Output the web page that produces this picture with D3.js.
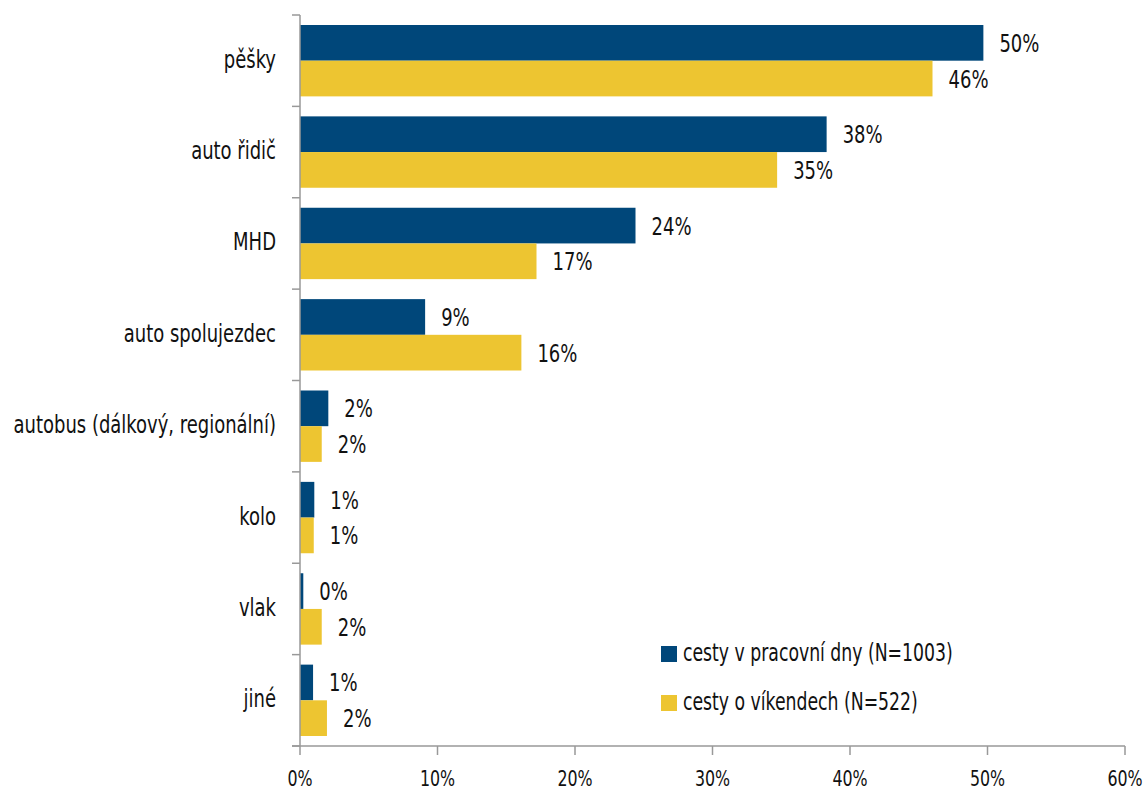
<!DOCTYPE html>
<html><head><meta charset="utf-8">
<script src="https://cdn.jsdelivr.net/npm/d3@7"></script>
<style>
body{margin:0;background:#fff;}
text{font-family:"DejaVu Sans Condensed","DejaVu Sans",sans-serif;fill:#111;}
</style></head>
<body><svg id="c" width="1147" height="792"></svg>
<script>
const categories=["pěšky","auto řidič","MHD","auto spolujezdec","autobus (dálkový, regionální)","kolo","vlak","jiné"];
const weekday=[49.7,38.3,24.4,9.1,2.06,1.04,0.24,0.95];
const weekend=[46.0,34.7,17.2,16.1,1.58,1.0,1.58,1.96];
const weekdayLabels=["50%","38%","24%","9%","2%","1%","0%","1%"];
const weekendLabels=["46%","35%","17%","16%","2%","1%","2%","2%"];
const seriesNames=["cesty v pracovní dny (N=1003)","cesty o víkendech (N=522)"];
const colors=["#00477A","#EDC531"];
const xTicks=[0,10,20,30,40,50,60];

const svg=d3.select("#c");
const SX=0.8;
function txt(g,xp,yp,str,anchor,size){
  return g.append("text").attr("transform",`translate(${xp},${yp}) scale(${SX},1)`)
    .attr("text-anchor",anchor||"start").attr("font-size",size||25).text(str);
}
const x=d3.scaleLinear().domain([0,60]).range([300,1125]);
const yb=d3.scaleBand().domain(categories).range([15,746]).padding(0);
const inner=d3.scaleBand().domain([0,1]).range([10,yb.bandwidth()-10]);

const series=[weekday,weekend], labels=[weekdayLabels,weekendLabels];
categories.forEach((c,i)=>{
  const g=svg.append("g").attr("transform",`translate(0,${yb(c)})`);
  [0,1].forEach(s=>{
    g.append("rect").attr("x",x(0)).attr("y",inner(s)).attr("width",x(series[s][i])-x(0)).attr("height",inner.bandwidth()).attr("fill",colors[s]);
    txt(g,x(series[s][i])+16,inner(s)+inner.bandwidth()/2+9,labels[s][i],"start",25);
  });
});

// y axis
const ya=svg.append("g");
ya.append("line").attr("x1",300).attr("x2",300).attr("y1",15).attr("y2",746).attr("stroke","#999").attr("stroke-width",1.5);
const bounds=categories.map(c=>yb(c)).concat([746]);
bounds.forEach(b=>ya.append("line").attr("x1",292).attr("x2",300).attr("y1",b).attr("y2",b).attr("stroke","#999").attr("stroke-width",1.5));
categories.forEach(c=>txt(ya,276,yb(c)+yb.bandwidth()/2+7,c,"end",25));

// x axis
const xa=svg.append("g").attr("transform","translate(0,746)");
xa.append("line").attr("x1",292).attr("x2",1125).attr("stroke","#999").attr("stroke-width",1.5);
xTicks.forEach(t=>{
  xa.append("line").attr("x1",x(t)).attr("x2",x(t)).attr("y1",0).attr("y2",9).attr("stroke","#999").attr("stroke-width",1.5);
  txt(xa,x(t),40,t+"%","middle",22);
});

// legend
seriesNames.forEach((n,i)=>{
  const g=svg.append("g").attr("transform",`translate(661,${646+i*49})`);
  g.append("rect").attr("width",16).attr("height",16).attr("fill",colors[i]);
  txt(g,22,15,n,"start",24);
});
</script></body></html>
